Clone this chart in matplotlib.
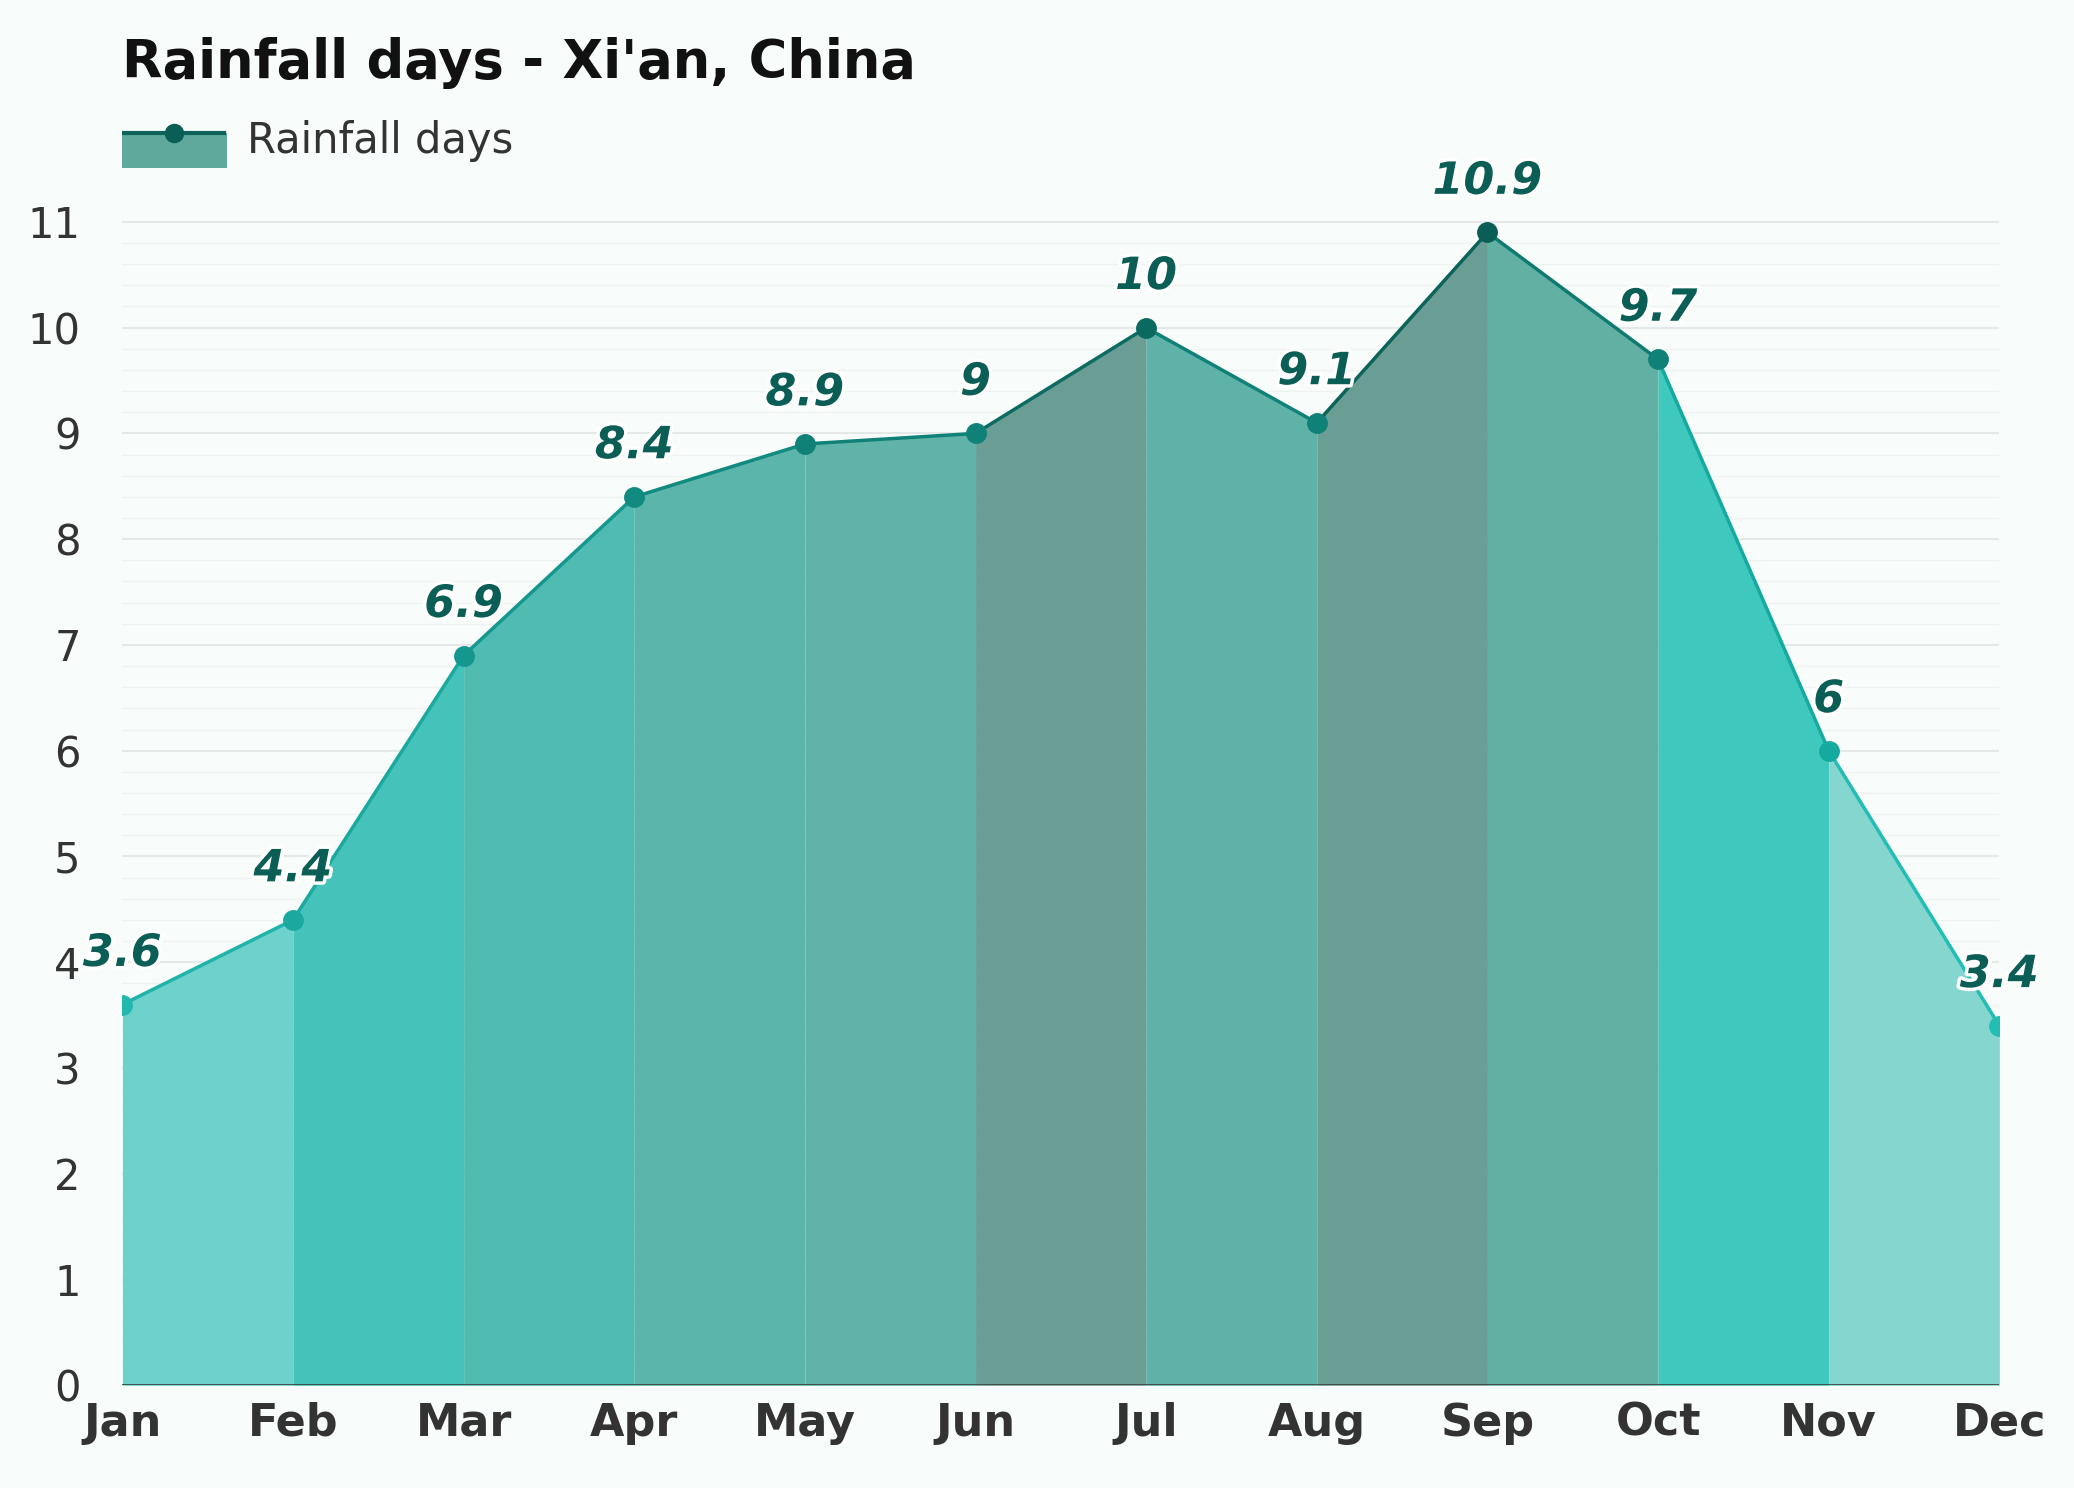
import matplotlib
matplotlib.use("Agg")
import matplotlib.pyplot as plt
import matplotlib.patheffects as pe
import numpy as np

months = ["Jan","Feb","Mar","Apr","May","Jun","Jul","Aug","Sep","Oct","Nov","Dec"]
values = [3.6,4.4,6.9,8.4,8.9,9,10,9.1,10.9,9.7,6,3.4]
seg_colors = ["#6dd2cb","#45c3ba","#50bbb1","#5bb5ab","#60b3a8","#6a9e94",
              "#5fb2a7","#6a9d93","#62afa3","#3fc8be","#84d6cf"]
line_colors = ["#20b3aa","#1aa89f","#14978e","#118a80","#0f8177","#0c6b62",
               "#0f8177","#0b6359","#0f7a70","#15aaa0","#22bdb4"]
marker_colors = ["#22b8ae","#1aa89f","#14978e","#118a80","#0f8177","#0f8177",
                 "#0b6a60","#0f8177","#0b5e55","#0f8177","#15aaa0","#22bdb4"]

fig = plt.figure(figsize=(20.74,14.88), dpi=100)
fig.patch.set_facecolor("#f8fcfb")
ax = fig.add_axes([0.059,0.069,0.905,0.789])
ax.set_facecolor("#f8fcfb")
x = np.arange(12)
for i in range(11):
    ax.fill_between(x[i:i+2], values[i:i+2], 0, color=seg_colors[i], lw=0, zorder=2)
    ax.plot(x[i:i+2], values[i:i+2], color=line_colors[i], lw=2.5, zorder=3)
for i in range(12):
    ax.plot(x[i], values[i], "o", ms=14, color=marker_colors[i], zorder=4)
    ax.text(x[i], values[i]+0.28, f"{values[i]:g}", ha="center", va="bottom",
            fontsize=32, fontweight="bold", style="italic", color="#0b5e55", zorder=5,
            path_effects=[pe.withStroke(linewidth=5, foreground="white")])
for yv in np.arange(0.2, 11.01, 0.2):
    major = abs(yv-round(yv)) < 1e-6
    ax.axhline(yv, color="#e4e8e8" if major else "#f0f2f2", lw=1.5 if major else 1, zorder=1)
ax.axhline(0, color="#444444", lw=2, zorder=6)
ax.set_xlim(0, 11)
ax.set_ylim(0, 11.1)
ax.set_yticks(range(12))
ax.set_yticklabels([str(v) for v in range(12)], fontsize=30, color="#333333")
ax.set_xticks(x)
ax.set_xticklabels(months, fontsize=32, fontweight="bold", color="#333333")
ax.tick_params(length=0, pad=12)
ax.tick_params(axis="y", pad=30)
for s in ax.spines.values():
    s.set_visible(False)

fig.text(0.059, 0.975, "Rainfall days - Xi'an, China", fontsize=38, fontweight="bold",
         color="#111111", va="top")
# legend
lax = fig.add_axes([0.059, 0.888, 0.05, 0.03])
lax.set_xlim(0,1); lax.set_ylim(0,1); lax.axis("off")
lax.fill_between([0,1],[0.75,0.75],0,color="#5fa89c")
lax.plot([0,1],[0.75,0.75],color="#0b6359",lw=3)
lax.plot(0.5,0.75,"o",ms=13,color="#0b5e55")
fig.text(0.119, 0.905, "Rainfall days", fontsize=30, color="#333333", va="center")
fig.savefig("out.png", facecolor=fig.get_facecolor())
